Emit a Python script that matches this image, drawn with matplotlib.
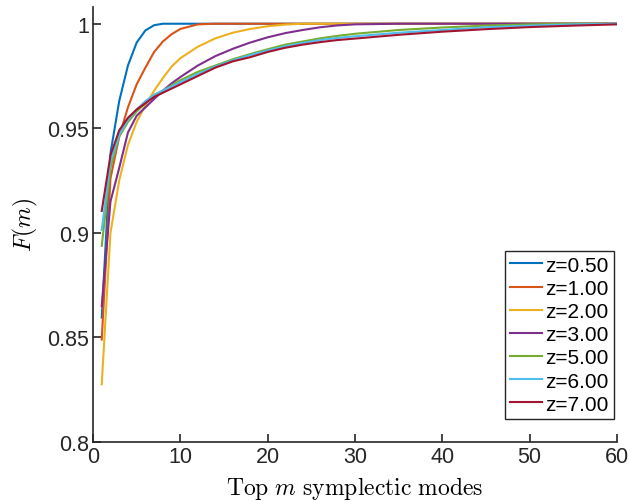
import numpy as np
import matplotlib
matplotlib.use("Agg")
import matplotlib.pyplot as plt

plt.rcParams['font.family'] = ['Liberation Sans', 'DejaVu Sans']
plt.rcParams['mathtext.fontset'] = 'cm'

# values
m = [1, 2, 3, 4, 5, 6, 7, 8, 9, 10, 12, 14, 16, 18, 20, 22, 24, 26, 28, 30,
     35, 40, 45, 50, 55, 60]

f_z050 = [0.8595, 0.938, 0.963, 0.980, 0.991, 0.9968, 0.9993, 1.0, 1.0, 1.0,
          1.0, 1.0, 1.0, 1.0, 1.0, 1.0, 1.0, 1.0, 1.0, 1.0,
          1.0, 1.0, 1.0, 1.0, 1.0, 1.0]
f_z100 = [0.849, 0.926, 0.946, 0.960, 0.971, 0.979, 0.9865, 0.9915, 0.995, 0.9975,
          0.9997, 1.0, 1.0, 1.0, 1.0, 1.0, 1.0, 1.0, 1.0, 1.0,
          1.0, 1.0, 1.0, 1.0, 1.0, 1.0]
f_z200 = [0.8276, 0.900, 0.925, 0.942, 0.953, 0.961, 0.968, 0.974, 0.9795, 0.9835,
          0.989, 0.993, 0.9957, 0.9975, 0.9988, 0.9996, 1.0, 1.0, 1.0, 1.0,
          1.0, 1.0, 1.0, 1.0, 1.0, 1.0]
f_z300 = [0.865, 0.915, 0.931, 0.948, 0.956, 0.960, 0.964, 0.968, 0.9715, 0.9745,
          0.980, 0.9845, 0.988, 0.991, 0.9935, 0.9955, 0.997, 0.9983, 0.9992, 0.9997,
          1.0, 1.0, 1.0, 1.0, 1.0, 1.0]
f_z500 = [0.8938, 0.931, 0.946, 0.953, 0.958, 0.962, 0.966, 0.968, 0.9705, 0.973,
          0.977, 0.980, 0.983, 0.9855, 0.9878, 0.990, 0.9915, 0.993, 0.9942, 0.9952,
          0.997, 0.9982, 0.9991, 0.9997, 1.0, 1.0]
f_z600 = [0.9014, 0.934, 0.947, 0.954, 0.959, 0.963, 0.966, 0.968, 0.970, 0.972,
          0.976, 0.9795, 0.9825, 0.985, 0.9872, 0.9892, 0.9908, 0.9922, 0.9932, 0.9940,
          0.9957, 0.9970, 0.9983, 0.9991, 0.9997, 1.0]
f_z700 = [0.9105, 0.937, 0.949, 0.955, 0.959, 0.962, 0.965, 0.967, 0.969, 0.971,
          0.975, 0.979, 0.982, 0.984, 0.9865, 0.9885, 0.9900, 0.9912, 0.9922, 0.9929,
          0.9947, 0.9962, 0.9974, 0.9984, 0.9991, 0.9997]

series = [f_z050, f_z100, f_z200, f_z300, f_z500, f_z600, f_z700]
labels = ["z=0.50", "z=1.00", "z=2.00", "z=3.00", "z=5.00", "z=6.00", "z=7.00"]
colors = ["#0072BD", "#D95319", "#EDB120", "#7E2F8E", "#77AC30", "#4DBEEE", "#A2142F"]

W, H = 629, 502
fig = plt.figure(figsize=(W / 100, H / 100), dpi=100)
ax = fig.add_axes([93 / W, 1 - 443 / H, (617 - 93) / W, (443 - 8) / H])

for vals, lab, c in zip(series, labels, colors):
    ax.plot(m, vals, color=c, lw=1.5, label=lab)

ax.set_xlim(0, 60)
ax.set_ylim(0.8, 1.008)
ax.set_xticks(np.arange(0, 61, 10))
ax.set_yticks([0.8, 0.85, 0.9, 0.95, 1.0])
ax.set_yticklabels(["0.8", "0.85", "0.9", "0.95", "1"])

for side in ["top", "right"]:
    ax.spines[side].set_visible(False)
for side in ["left", "bottom"]:
    ax.spines[side].set_color("#262626")
    ax.spines[side].set_linewidth(1.2)
ax.tick_params(direction="in", length=6, width=1.2, colors="#262626",
               labelsize=15.5, pad=3)

ax.set_xlabel(r"$\mathrm{Top}\ m\ \mathrm{symplectic\ modes}$", fontsize=17,
              labelpad=5)
ax.set_ylabel(r"$F(m)$", fontsize=17, labelpad=5)

leg = ax.legend(loc="lower right", bbox_to_anchor=(0.994, 0.053),
                borderaxespad=0, fontsize=15, handlelength=1.55,
                handletextpad=0.15, labelspacing=0.2, borderpad=0.25,
                fancybox=False, framealpha=1, edgecolor="#262626")
leg.get_frame().set_linewidth(1.0)

fig.savefig("out.png", dpi=100)
